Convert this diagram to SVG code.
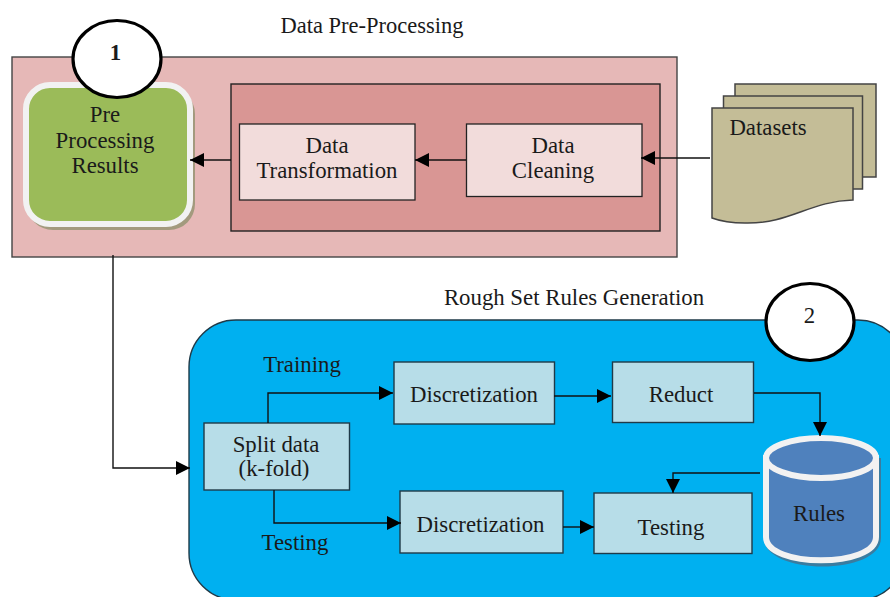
<svg xmlns="http://www.w3.org/2000/svg" width="890" height="597" viewBox="0 0 890 597">
<style>
text{font-family:"Liberation Serif","Times New Roman",serif;font-size:22.800px;fill:#1a1a1a;text-anchor:middle}
.lb{fill:#b7dde8;stroke:#1f3a48;stroke-width:1.4}
.pk{fill:#f2dcdb;stroke:#222;stroke-width:1.3}
.c{fill:none;stroke:#111;stroke-width:1.4}
.circ{fill:#fff;stroke:#000;stroke-width:3.2}
.doc{fill:#c4bd97;stroke:#444;stroke-width:1.5}
</style>
<defs>
<marker id="a" markerUnits="userSpaceOnUse" markerWidth="15" markerHeight="15" refX="14" refY="7.500" orient="auto"><path d="M0,0.500 L14,7.500 L0,14.500 Z" fill="#000"/></marker>
</defs>
<rect width="890" height="597" fill="#fff"/>
<text x="372" y="33" style="font-size:22.500px">Data Pre-Processing</text>
<text x="574" y="305">Rough Set Rules Generation</text>
<g id="preprocess-panel"><rect x="12" y="57" width="665" height="200" fill="#e6b8b7" stroke="#444" stroke-width="1.4"/></g>
<g id="inner-panel"><rect x="231" y="84" width="429" height="147" fill="#d99694" stroke="#222" stroke-width="1.4"/></g>
<g id="results">
<rect x="27" y="88" width="168" height="142" rx="26" fill="#a39a7e"/>
<rect x="26" y="85" width="164" height="139" rx="24" fill="#9bbb59" stroke="#f2f2f2" stroke-width="6"/>
<text x="105" y="122">Pre</text><text x="105" y="148">Processing</text><text x="105" y="173">Results</text>
</g>
<g id="circle-1"><ellipse cx="117" cy="59" rx="44" ry="38.500" class="circ"/><text x="115.500" y="60" style="font-weight:bold">1</text></g>
<g id="data-transformation"><rect x="239.500" y="124" width="175.500" height="76" class="pk"/><text x="327" y="153">Data</text><text x="327" y="178">Transformation</text></g>
<g id="data-cleaning"><rect x="466.500" y="124" width="175.500" height="72.500" class="pk"/><text x="553" y="153">Data</text><text x="553" y="178">Cleaning</text></g>
<g id="datasets">
<rect x="735" y="84" width="141" height="93" class="doc"/>
<rect x="723.500" y="96" width="139" height="93" class="doc"/>
<path d="M712,108 H853 V200 C810,201 790,224 745,223 C730,223 720,221 712,218 Z" class="doc"/>
<text x="768" y="135">Datasets</text>
</g>
<g id="rough-panel"><rect x="189" y="320" width="716" height="280" rx="47" fill="#00b0f0" stroke="#1f3a48" stroke-width="1.4"/></g>
<g id="circle-2"><ellipse cx="810" cy="322" rx="44" ry="38.500" class="circ"/><text x="809.500" y="323">2</text></g>
<g id="split"><rect x="204" y="423" width="145.500" height="67" class="lb"/><text x="276" y="452">Split data</text><text x="274" y="476">(k-fold)</text></g>
<g id="discretization-1"><rect x="394" y="362" width="160.500" height="62" class="lb"/><text x="474" y="402">Discretization</text></g>
<g id="discretization-2"><rect x="400" y="491" width="163" height="62" class="lb"/><text x="480.500" y="532">Discretization</text></g>
<g id="reduct"><rect x="612.500" y="362" width="141" height="60.500" class="lb"/><text x="681" y="402">Reduct</text></g>
<g id="testing"><rect x="594" y="493" width="158" height="60.500" class="lb"/><text x="671" y="535">Testing</text></g>
<g id="rules">
<path d="M764,458 V538 C764,576 881,576 881,538 V458 Z" fill="#3a7ca0"/>
<path d="M766,458 V537 C766,568 876,568 876,537 V458 Z" fill="#4f81bd" stroke="#f2f2f2" stroke-width="6"/>
<ellipse cx="821" cy="458" rx="55" ry="20" fill="#4f81bd" stroke="#f2f2f2" stroke-width="6"/>
<text x="819" y="521">Rules</text>
</g>
<g id="connectors">
<path d="M113,255 V468 H190" class="c" marker-end="url(#a)"/>
<path d="M231,160 H190" class="c" marker-end="url(#a)"/>
<path d="M466,160 H415" class="c" marker-end="url(#a)"/>
<path d="M710,158 H641" class="c" marker-end="url(#a)"/>
<path d="M268,423 V393 H393" class="c" marker-end="url(#a)"/>
<path d="M274,490 V523 H401" class="c" marker-end="url(#a)"/>
<path d="M554,396 H611" class="c" marker-end="url(#a)"/>
<path d="M563,527 H594" class="c" marker-end="url(#a)"/>
<path d="M754,393 H820 V436" class="c" marker-end="url(#a)"/>
<path d="M760,473 H673 V493" class="c" marker-end="url(#a)"/>
</g>
<text x="302" y="372">Training</text>
<text x="295" y="550">Testing</text>
</svg>
